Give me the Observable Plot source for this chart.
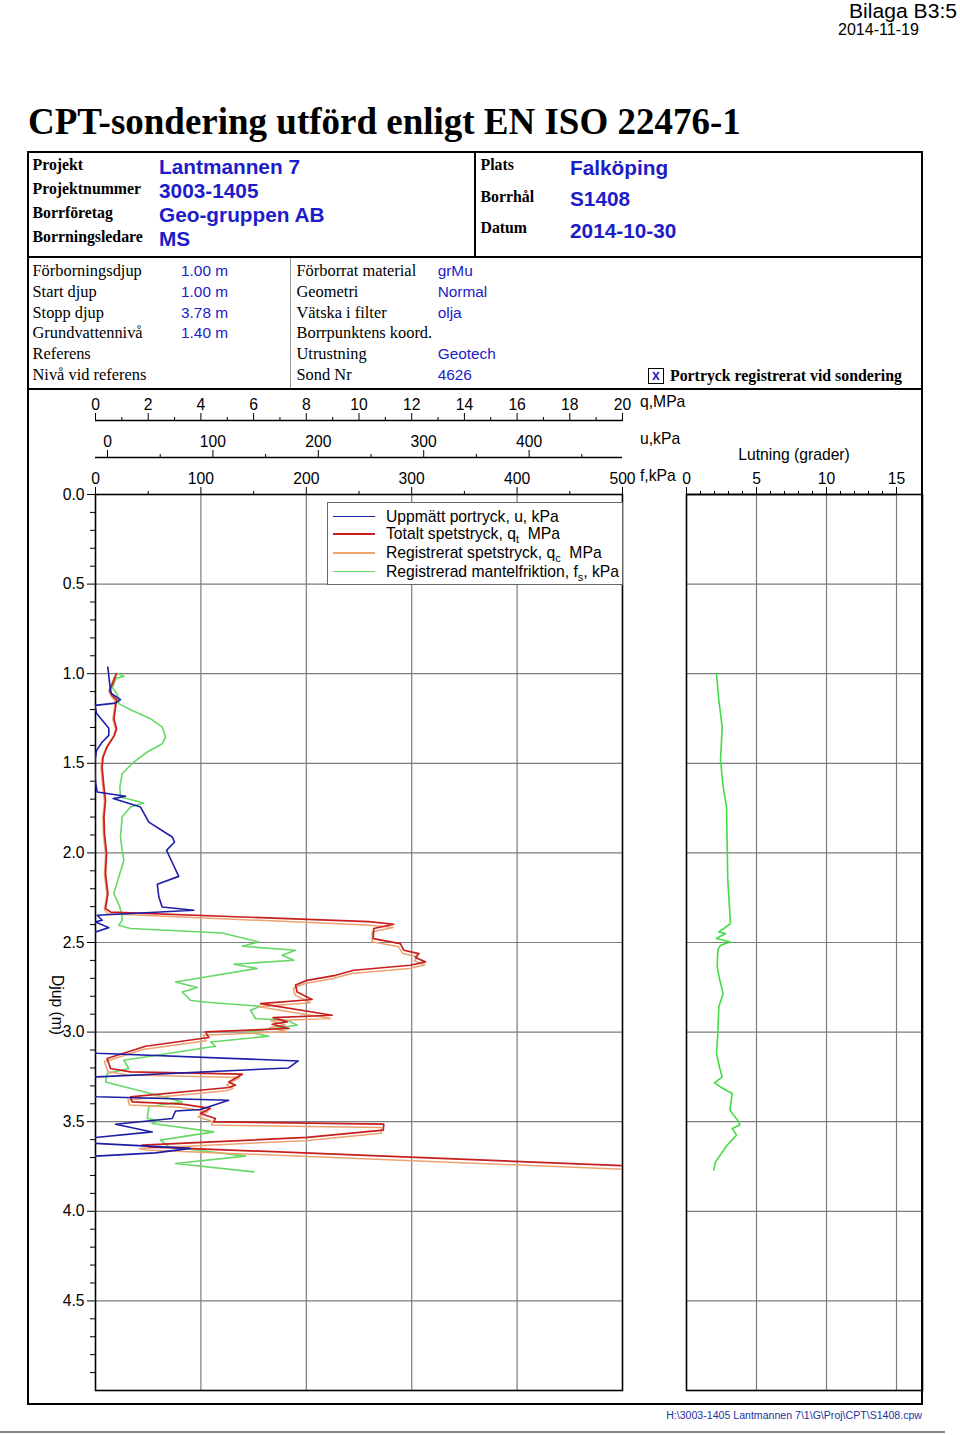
<!DOCTYPE html>
<html><head><meta charset="utf-8">
<script src="https://cdn.jsdelivr.net/npm/d3@7"></script>
<script src="https://cdn.jsdelivr.net/npm/@observablehq/plot@0.6"></script>
<style>
body{margin:0;background:#fff;}
#page{position:relative;width:960px;height:1435px;overflow:hidden;font-family:"Liberation Sans",Arial,sans-serif;color:#000;}
.a{position:absolute;white-space:nowrap;line-height:1;}
.ln{position:absolute;background:#000;}
.plot{position:absolute;top:380px;}
</style></head><body><div id="page"></div>
<script>
// ---------- DATA ----------
const depthU = [0.963,1.009,1.065,1.110,1.145,1.164,1.177,1.221,1.260,1.305,1.344,1.381,1.428,1.500,1.605,1.660,1.684,1.697,1.744,1.828,1.911,1.939,1.986,2.041,2.131,2.175,2.246,2.302,2.320,2.348,2.376,2.385,2.417,2.441,2.50,3.10,3.118,3.161,3.200,3.250,3.26,3.35,3.361,3.380,3.432,3.440,3.482,3.514,3.557,3.588,3.60,3.615,3.621,3.649,3.674,3.692];
const uVals   = [0.3,1.2,2.2,3.5,12.3,7.6,-12,-10.4,-5,1.2,1.2,-5,-10.4,-12.3,-11.4,-9.8,17.1,5.4,31.3,39.2,61.4,63.6,56,60.4,67.6,47.2,48.7,51.9,81.9,-9.8,-5,-11.4,1.2,-11.4,-40,-40,-9.8,181,171.7,-9.8,-40,-40,-9.8,115,88.2,64.5,61.4,7.6,42.4,-11.4,-30,-30,-11.4,78.7,45.5,-11.4];

const depthQt = [1.000,1.047,1.093,1.121,1.145,1.186,1.251,1.307,1.344,1.409,1.465,1.521,1.632,1.707,1.800,1.892,2.004,2.116,2.227,2.311,2.330,2.384,2.398,2.422,2.478,2.506,2.543,2.562,2.584,2.608,2.627,2.655,2.683,2.711,2.738,2.776,2.818,2.841,2.906,2.919,2.943,2.956,2.980,2.999,3.030,3.079,3.147,3.203,3.222,3.235,3.278,3.296,3.309,3.361,3.389,3.402,3.426,3.454,3.482,3.501,3.514,3.547,3.588,3.631,3.640,3.745];
const qtVals  = [0.80,0.67,0.54,0.63,0.80,0.76,0.70,0.80,0.72,0.44,0.29,0.25,0.32,0.38,0.32,0.34,0.42,0.38,0.47,0.38,0.57,10.37,11.32,10.56,10.54,11.57,11.70,12.27,12.14,12.52,11.95,9.80,9.11,8.03,7.59,7.65,8.22,6.26,8.98,6.74,7.27,6.70,7.34,4.17,4.30,1.90,0.44,0.57,1.33,5.57,5.06,5.31,5.06,1.33,1.39,3.29,4.36,3.98,4.55,4.49,10.94,10.92,8.03,1.77,2.02,20.0];

const depthQc = [1.005,1.052,1.098,1.126,1.150,1.191,1.256,1.312,1.349,1.414,1.470,1.526,1.637,1.712,1.805,1.897,2.009,2.121,2.232,2.316,2.340,2.402,2.416,2.440,2.496,2.524,2.561,2.580,2.602,2.626,2.645,2.673,2.701,2.729,2.756,2.794,2.836,2.859,2.924,2.937,2.961,2.974,2.998,3.017,3.048,3.097,3.165,3.221,3.240,3.253,3.296,3.314,3.327,3.379,3.407,3.420,3.444,3.472,3.500,3.519,3.532,3.565,3.606,3.649,3.658,3.765];
const qcVals  = [0.76,0.62,0.50,0.60,0.74,0.72,0.66,0.76,0.68,0.40,0.25,0.21,0.28,0.34,0.28,0.30,0.38,0.34,0.43,0.34,0.46,10.30,11.30,10.50,10.50,11.50,11.66,12.22,12.10,12.50,11.90,9.72,9.02,7.95,7.50,7.58,8.15,6.20,8.92,6.66,7.20,6.62,7.26,4.08,4.20,1.80,0.34,0.47,1.23,5.48,4.97,5.22,4.97,1.23,1.29,3.20,4.27,3.89,4.46,4.40,10.86,10.84,7.95,1.67,1.92,20.0];

const depthFs = [1.000,1.015,1.025,1.078,1.115,1.167,1.205,1.251,1.298,1.354,1.391,1.437,1.493,1.558,1.632,1.688,1.722,1.744,1.800,1.911,1.986,2.041,2.134,2.227,2.302,2.357,2.376,2.404,2.422,2.447,2.497,2.521,2.543,2.571,2.599,2.621,2.645,2.720,2.751,2.776,2.822,2.832,2.856,2.878,2.924,2.934,2.962,2.999,3.023,3.055,3.079,3.157,3.203,3.231,3.278,3.343,3.389,3.417,3.482,3.495,3.510,3.557,3.603,3.640,3.692,3.733,3.780];
const fsVals  = [22,27,19.5,16,20.6,22.1,34.8,52.2,63.3,66.4,63.3,49.1,36.3,25.3,23.1,23.7,45.8,33.2,25.3,23.7,25.3,26.9,22.1,17.4,23.1,25.3,25.3,22.1,33.2,120.2,154.9,139.2,189.8,177.1,188.1,131.2,153.4,75.9,96.5,82.3,90.1,102.8,156.5,147.1,151.8,181.9,191.4,143.9,164.4,109.1,113.9,26.9,31.6,11.1,9.5,52.2,82.3,50.6,49.1,60.1,53.8,112.2,61.7,69.5,142.3,75.9,150.2];

const depthInc = [1.000,1.149,1.298,1.484,1.632,1.744,1.930,2.153,2.394,2.422,2.441,2.450,2.478,2.497,2.515,2.543,2.636,2.711,2.785,2.859,3.008,3.120,3.203,3.250,3.283,3.306,3.343,3.436,3.501,3.519,3.538,3.575,3.631,3.724,3.770];
const incVals  = [2.14,2.31,2.55,2.43,2.62,2.86,2.90,2.95,3.14,2.67,2.31,2.79,2.14,3.14,2.43,2.24,2.19,2.38,2.62,2.31,2.24,2.14,2.38,2.55,2.00,2.43,3.26,3.10,3.74,3.81,3.26,3.57,2.90,2.07,1.95];

// ticks / grid
const qTicks = [0,2,4,6,8,10,12,14,16,18,20];
const qMinor = [1,3,5,7,9,11,13,15,17,19];
const uTicks = [0,100,200,300,400];
const uMinor = [50,150,250,350,450];
const fTicks = [0,100,200,300,400,500];
const fMinor = [50,150,250,350,450];
const fGrid  = [100,200,300,400];
const incTicks = [0,5,10,15];
const incMinor = [1,2,3,4,6,7,8,9,11,12,13,14];
const incGrid = [5,10,15];
const depthTicks = [0,0.5,1,1.5,2,2.5,3,3.5,4,4.5];
const depthMinor = [0.1,0.2,0.3,0.4,0.6,0.7,0.8,0.9,1.1,1.2,1.3,1.4,1.6,1.7,1.8,1.9,2.1,2.2,2.3,2.4,2.6,2.7,2.8,2.9,3.1,3.2,3.3,3.4,3.6,3.7,3.8,3.9,4.1,4.2,4.3,4.4,4.6,4.7,4.8,4.9];
const depthGrid = [0.5,1,1.5,2,2.5,3,3.5,4,4.5];

const uData  = depthU.map((d,i)=>({d, v:uVals[i]}));
const qtData = depthQt.map((d,i)=>({d, v:qtVals[i]}));
const qcData = depthQc.map((d,i)=>({d, v:qcVals[i]}));
const fsData = depthFs.map((d,i)=>({d, v:fsVals[i]}));
const incData= depthInc.map((d,i)=>({d, v:incVals[i]}));

const C = {u:"#1d1da8", qt:"#c81e1e", qc:"#eba370", fs:"#66d866", inc:"#44dc44", grid:"#7c7c7c", blue:"#1c1cc8"};

// ---------- PAGE ----------
const page = document.getElementById("page");
function fit(e,w){const r=e.getBoundingClientRect().width; const fs=parseFloat(e.style.fontSize); e.style.fontSize=(fs*w/r)+"px";}
function T(s,x,y,o={}){
  const e=document.createElement("div"); e.className="a"; e.innerHTML=s;
  e.style.fontSize=(o.size||15.7)+"px";
  if(o.lh) e.style.lineHeight=o.lh;
  if(o.serif) e.style.fontFamily='"Liberation Serif","Times New Roman",serif';
  if(o.bold) e.style.fontWeight="bold";
  if(o.color) e.style.color=o.color;
  e.style.top=y+"px";
  const ax=o.anchor||"start";
  if(o.rot){e.style.left=x+"px"; e.style.transform="translate(-50%,-50%) rotate(90deg)";}
  else if(ax==="end"){e.style.right=(960-x)+"px"; e.style.transform="translateY(-50%)";}
  else if(ax==="middle"){e.style.left=x+"px"; e.style.transform="translate(-50%,-50%)";}
  else {e.style.left=x+"px"; e.style.transform="translateY(-50%)";}
  page.appendChild(e);
  if(o.w) fit(e,o.w);
  return e;
}
function L(x,y,w,h,c){const e=document.createElement("div"); e.className="ln"; Object.assign(e.style,{left:x+"px",top:y+"px",width:w+"px",height:h+"px"}); if(c) e.style.background=c; page.appendChild(e); return e;}

// ---------- PLOTS ----------
const base = {width:680, height:1020, marginLeft:95, marginRight:58, marginTop:114, marginBottom:10,
  style:{background:"transparent", fontFamily:"Liberation Sans, Arial, sans-serif", fontSize:"15.7px", color:"#000", overflow:"visible"}};
const yScale = {domain:[0,5], reverse:true, label:null};
function place(svg, left){svg.classList.add("plot"); svg.style.left=left+"px"; svg.style.position="absolute"; svg.style.top="380px"; page.appendChild(svg);}

const mainPlot = Plot.plot({...base,
  x:{domain:[0,500], label:null}, y:yScale,
  marks:[
    Plot.ruleX(fGrid,{stroke:C.grid, strokeWidth:1.2}),
    Plot.ruleY(depthGrid,{stroke:C.grid, strokeWidth:1.2}),
    Plot.line(fsData,{x:"v", y:"d", stroke:C.fs, strokeWidth:1.6, clip:true}),
    Plot.frame({stroke:"#000", strokeWidth:1.6}),
    Plot.axisX({ticks:fTicks, anchor:"top", tickSize:8, tickPadding:3, tickFormat:"d", label:null}),
    Plot.axisX({ticks:fMinor, anchor:"top", tickSize:4, tickFormat:()=>"", label:null}),
    Plot.axisY({ticks:depthTicks, anchor:"left", tickSize:8, tickPadding:3, tickFormat:".1f", label:null}),
    Plot.axisY({ticks:depthMinor, anchor:"left", tickSize:5, tickFormat:()=>"", label:null})
  ]});
place(mainPlot,0);

const qPlot = Plot.plot({...base,
  x:{domain:[0,20], label:null}, y:{...yScale, axis:null},
  marks:[
    Plot.line(qcData,{x:"v", y:"d", stroke:C.qc, strokeWidth:1.5, clip:true}),
    Plot.line(qtData,{x:"v", y:"d", stroke:C.qt, strokeWidth:1.7, clip:true}),
    Plot.ruleY([0],{x1:0, x2:20, dy:-74, stroke:"#000", strokeWidth:1.6}),
    Plot.axisX({ticks:qTicks, anchor:"top", dy:-74, tickSize:8, tickPadding:3, tickFormat:"d", label:null}),
    Plot.axisX({ticks:qMinor, anchor:"top", dy:-74, tickSize:4, tickFormat:()=>"", label:null})
  ]});
place(qPlot,0);

const uPlot = Plot.plot({...base,
  x:{domain:[-11.4,488.6], label:null}, y:{...yScale, axis:null},
  marks:[
    Plot.line(uData,{x:"v", y:"d", stroke:C.u, strokeWidth:1.6, clip:true}),
    Plot.ruleY([0],{x1:-11.4, x2:488.6, dy:-37, stroke:"#000", strokeWidth:1.6}),
    Plot.axisX({ticks:uTicks, anchor:"top", dy:-37, tickSize:8, tickPadding:3, tickFormat:"d", label:null}),
    Plot.axisX({ticks:uMinor, anchor:"top", dy:-37, tickSize:4, tickFormat:()=>"", label:null})
  ]});
place(uPlot,0);

const incPlot = Plot.plot({...base, width:300, marginLeft:46, marginRight:18,
  x:{domain:[0,236/14], label:null}, y:{...yScale, axis:null},
  marks:[
    Plot.ruleX(incGrid,{stroke:C.grid, strokeWidth:1.2}),
    Plot.ruleY(depthGrid,{stroke:C.grid, strokeWidth:1.2}),
    Plot.line(incData,{x:"v", y:"d", stroke:C.inc, strokeWidth:1.6, clip:true}),
    Plot.frame({stroke:"#000", strokeWidth:1.6}),
    Plot.ruleY([0],{x1:0, x2:15, stroke:"#000", strokeWidth:1.6}),
    Plot.axisX({ticks:incTicks, anchor:"top", tickSize:8, tickPadding:3, tickFormat:"d", label:null}),
    Plot.axisX({ticks:incMinor, anchor:"top", tickSize:4, tickFormat:()=>"", label:null})
  ]});
place(incPlot,640);

// ---------- FRAMES ----------
const fr=document.createElement("div");
Object.assign(fr.style,{position:"absolute",left:"27px",top:"151px",width:"896px",height:"1254px",border:"2px solid #000",boxSizing:"border-box"});
page.appendChild(fr);
L(27,256,896,2);
L(27,388,896,2);
L(474,151,2,106);
L(290,258,1,130,"#9a9a9a");
L(0,1431,945,2,"#8a8a8a");

// ---------- TEXT ----------
T("Bilaga B3:5",957,10.5,{size:20,anchor:"end",w:108,lh:"0.85"});
T("2014-11-19",838,30,{size:14,w:81,lh:"0.85"});
T("CPT-sondering utförd enligt EN ISO 22476-1",28,121,{serif:true,bold:true,size:38,w:713});

const hl=[["Projekt",165],["Projektnummer",189],["Borrföretag",213],["Borrningsledare",237]];
hl.forEach(([s,y])=>T(s,32.5,y,{serif:true,bold:true,size:15.8}));
const hv=[["Lantmannen 7",167],["3003-1405",191],["Geo-gruppen AB",215],["MS",238.5]];
hv.forEach(([s,y])=>T(s,159,y,{bold:true,size:20.8,color:C.blue}));
[["Plats",165],["Borrhål",196.5],["Datum",228]].forEach(([s,y])=>T(s,480.5,y,{serif:true,bold:true,size:15.8}));
[["Falköping",168],["S1408",199],["2014-10-30",230.5]].forEach(([s,y])=>T(s,570,y,{bold:true,size:20.8,color:C.blue}));

const rows=[271,291.8,312.5,333.3,354.2,375];
["Förborningsdjup","Start djup","Stopp djup","Grundvattennivå","Referens","Nivå vid referens"].forEach((s,i)=>T(s,32.5,rows[i],{serif:true,size:16.4}));
["1.00 m","1.00 m","3.78 m","1.40 m"].forEach((s,i)=>T(s,181,rows[i],{size:15.4,color:C.blue}));
["Förborrat material","Geometri","Vätska i filter","Borrpunktens koord.","Utrustning","Sond Nr"].forEach((s,i)=>T(s,296.5,rows[i],{serif:true,size:16.4}));
["grMu","Normal","olja","","Geotech","4626"].forEach((s,i)=>{ if(s) T(s,437.7,rows[i],{size:15.4,color:C.blue}); });

const cb=document.createElement("div");
Object.assign(cb.style,{position:"absolute",left:"648px",top:"368px",width:"16px",height:"16px",border:"1.5px solid #000",boxSizing:"border-box",color:C.blue,fontWeight:"bold",fontSize:"14px",lineHeight:"13px",textAlign:"center"});
cb.textContent="x"; page.appendChild(cb);
T("Portryck registrerat vid sondering",670,375.5,{serif:true,bold:true,size:15.3,w:232});

// axis titles
T("q,MPa",640,401.5,{size:15.7});
T("u,kPa",640,438.5,{size:15.7});
T("f,kPa",640,476,{size:15.7});
T("Lutning (grader)",794,454.5,{size:15.7,anchor:"middle"});
T("Djup (m)",57,1005,{size:15.7,rot:true});

// legend
const lg=document.createElement("div");
Object.assign(lg.style,{position:"absolute",left:"327px",top:"502px",width:"296px",height:"83px",border:"1px solid #666",background:"#fff",boxSizing:"border-box"});
page.appendChild(lg);
const legendItems=[
 [C.u,"Uppmätt portryck, u, kPa",516.5],
 [C.qt,"Totalt spetstryck, q<sub>t</sub>&nbsp; MPa",534],
 [C.qc,"Registrerat spetstryck, q<sub>c</sub>&nbsp; MPa",553],
 [C.fs,"Registrerad mantelfriktion, f<sub>s</sub>, kPa",571.5]];
legendItems.forEach(([c,s,y])=>{
  L(333,y-0.75,42,1.5,c);
  const e=T(s,386,y,{size:15.7});
  e.querySelectorAll("sub").forEach(sb=>{sb.style.fontSize="11px"; sb.style.verticalAlign="-0.35em"; sb.style.lineHeight="0";});
});

// footer
T("H:\\3003-1405 Lantmannen 7\\1\\G\\Proj\\CPT\\S1408.cpw",922,1415,{size:11,anchor:"end",color:"#24329c",w:256});
</script></body></html>
